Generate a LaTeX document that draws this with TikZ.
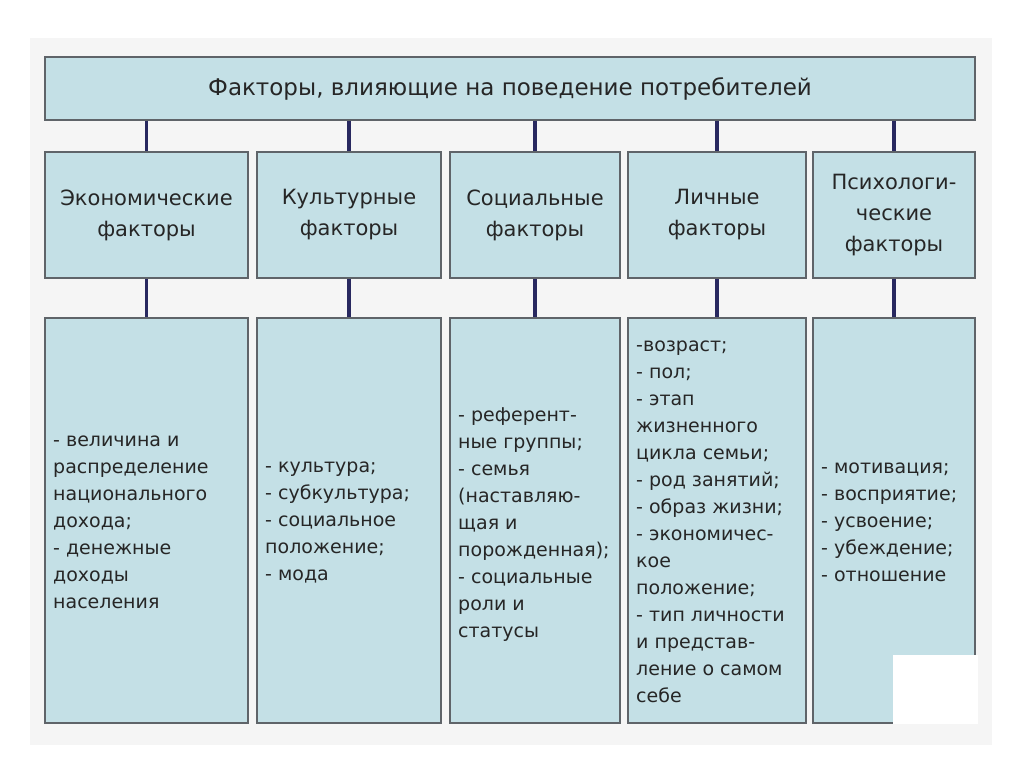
\documentclass[tikz,border=0pt]{standalone}
\usepackage{fontspec}
\setmainfont{DejaVu Sans}
\definecolor{boxblue}{RGB}{196,224,230}
\definecolor{edgegray}{RGB}{95,100,105}
\definecolor{linknavy}{RGB}{40,40,95}
\tikzset{
  box/.style={draw=edgegray, fill=boxblue, line width=1.5pt, inner sep=0pt},
  link/.style={linknavy, line width=3.5pt},
  txt/.style={font=\fontsize{19}{27}\selectfont, text=black!85},
  headtxt/.style={font=\fontsize{21}{31}\selectfont, text=black!85}
}
\begin{document}
\begin{tikzpicture}[x=1pt,y=-1pt]
    \useasboundingbox[fill=white] (0,0) rectangle (1024,767);
    \fill[black!4] (30,38) rectangle (992,745);

    % Header
    \node[box, minimum width=930, minimum height=63] (top) at (510,88.5) {};
    \node[font=\fontsize{23}{27}\selectfont, text=black!85] at (top) {Факторы, влияющие на поведение потребителей};

    % Second row and third row
    \foreach \n/\xa/\xb/\lab/\ty/\body in {
        1/45/248/{Экономические\\факторы}/522/{- величина и\\распределение\\национального\\дохода;\\- денежные\\доходы\\населения},
        2/257/441/{Культурные\\факторы}/522/{- культура;\\- субкультура;\\- социальное\\положение;\\- мода},
        3/450/620/{Социальные\\факторы}/525/{- референт-\\ные группы;\\- семья\\(наставляю-\\щая и\\порожденная);\\- социальные\\роли и\\статусы},
        4/628/806/{Личные\\факторы}/522/{-возраст;\\- пол;\\- этап\\жизненного\\цикла семьи;\\- род занятий;\\- образ жизни;\\- экономичес-\\кое\\положение;\\- тип личности\\и представ-\\ление о самом\\себе},
        5/813/975/{Психологи-\\ческие\\факторы}/522/{- мотивация;\\- восприятие;\\- усвоение;\\- убеждение;\\- отношение}} {
        \node[box, minimum width=\xb-\xa, minimum height=126] (h\n) at ({(\xa+\xb)/2},215) {};
        \node[headtxt, align=center] at (h\n) {\lab};
        \draw[link] (top.south -| h\n.north) -- (h\n.north);
        \node[box, minimum width=\xb-\xa, minimum height=405] (b\n) at ({(\xa+\xb)/2},520.5) {};
        \node[txt, align=left, anchor=west, inner sep=0pt] (t\n) at (\xa+8,\ty) {\body};
        \draw[link] (h\n.south) -- (b\n.north);
    }

    % white patch
    \fill[white] (893,655) rectangle (978,724);
\end{tikzpicture}
\end{document}
